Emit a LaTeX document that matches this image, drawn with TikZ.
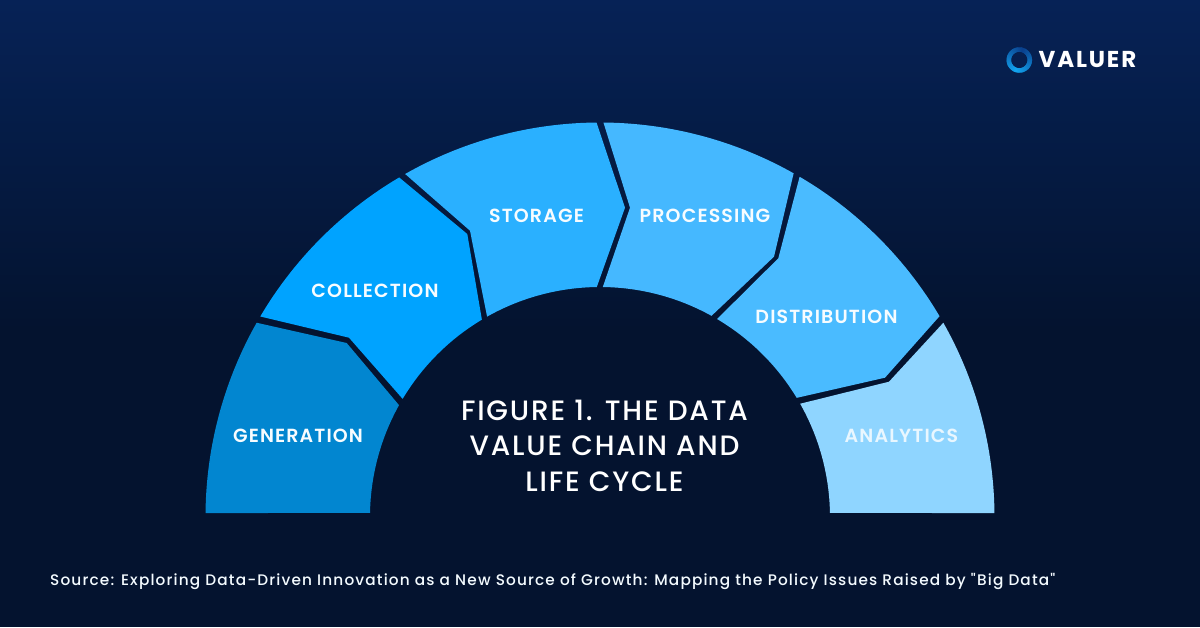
\documentclass[tikz,border=0pt]{standalone}
\usepackage{fontspec}
\setmainfont{Poppins}
\newfontfamily\bandfont[LetterSpace=6]{Poppins SemiBold}
\newfontfamily\titlefont[LetterSpace=6.5]{Poppins Medium}
\newfontfamily\sourcefont[LetterSpace=7.5]{Poppins Medium}
\newfontfamily\logofont[LetterSpace=8]{Poppins}
\definecolor{bgtop}{HTML}{062256}
\definecolor{bgbottom}{HTML}{04132F}
\definecolor{generationblue}{HTML}{0286D0}
\definecolor{collectionblue}{HTML}{00A3FF}
\definecolor{storageblue}{HTML}{2AB0FF}
\definecolor{processingblue}{HTML}{45B8FF}
\definecolor{distributionblue}{HTML}{4ABBFF}
\definecolor{analyticsblue}{HTML}{8FD5FF}
\definecolor{ringdark}{HTML}{0A3F8C}
\definecolor{ringlight}{HTML}{12A5F0}
\tikzset{
  bandlabel/.style={text=white!93!analyticsblue, font=\bandfont\fontsize{19}{22}\selectfont},
  titlelabel/.style={text=white, align=center, font=\titlefont\fontsize{28}{35.5}\selectfont},
  sourcelabel/.style={text=white!90!analyticsblue, anchor=west, inner sep=0pt, font=\sourcefont\fontsize{15.3}{18}\selectfont},
}
\begin{document}
\begin{tikzpicture}[x=1pt, y=1pt]
  \useasboundingbox (-600,-110) rectangle (600,517);
  % background
  \fill[bgbottom] (-600,-110) rectangle (600,190);
  \shade[top color=bgtop, bottom color=bgbottom] (-600,187) rectangle (600,517);
  % bands of the arch
  \fill[generationblue] (150.5:394.5) -- (-253.3,174) -- (150.9:230) arc[start angle=150.9, end angle=179, radius=230] -- (179.42:394.5) arc[start angle=179.42, end angle=150.5, radius=394.5] -- cycle;
  \fill[collectionblue] (120.6:394.5) -- (-132.7,283) -- (120.9:230) arc[start angle=120.9, end angle=149.1, radius=230] -- (-251,179.3) -- (149.45:394.5) arc[start angle=149.45, end angle=120.6, radius=394.5] -- cycle;
  \fill[storageblue] (90.5:394.5) -- (25,309.3) -- (90.8:230) arc[start angle=90.8, end angle=119.4, radius=230] -- (-130,286.3) -- (119.6:394.5) arc[start angle=119.6, end angle=90.5, radius=394.5] -- cycle;
  \fill[processingblue] (60.6:394.5) -- (174,260.3) -- (61:230) arc[start angle=61, end angle=89.3, radius=230] -- (30,309.3) -- (89.5:394.5) arc[start angle=89.5, end angle=60.6, radius=394.5] -- cycle;
  \fill[distributionblue] (30.6:394.5) -- (285,139.3) -- (31.2:230) arc[start angle=31.2, end angle=59.4, radius=230] -- (178.3,258.7) -- (59.6:394.5) arc[start angle=59.6, end angle=30.6, radius=394.5] -- cycle;
  \fill[analyticsblue] (0.58:394.5) -- (1:230) arc[start angle=1, end angle=29.5, radius=230] -- (289,135.3) -- (29.5:394.5) arc[start angle=29.5, end angle=0.58, radius=394.5] -- cycle;
  % labels
  \node[bandlabel] (generation) at (-302,81) {GENERATION};
  \node[bandlabel] (collection) at (-225,226) {COLLECTION};
  \node[bandlabel] (storage) at (-63.5,301) {STORAGE};
  \node[bandlabel] (processing) at (105,301.5) {PROCESSING};
  \node[bandlabel] (distribution) at (226.5,200) {DISTRIBUTION};
  \node[bandlabel, text=white!80!analyticsblue] (analytics) at (301.5,81) {ANALYTICS};
  \node[titlelabel] (title) at (4.5,71.5) {FIGURE 1. THE DATA\\VALUE CHAIN AND\\LIFE CYCLE};
  \node[sourcelabel] (source) at (-550,-64) {Source: Exploring Data-Driven Innovation as a New Source of Growth: Mapping the Policy Issues Raised by "Big Data"};
  % logo
  \foreach \a in {0,6,...,354} {
    \pgfmathsetmacro{\mixval}{abs(mod(\a+110,360)-180)/1.8}
    \draw[ringlight!\mixval!ringdark, line width=4.5pt] ([shift={(\a:10.5)}]419.3,457) arc[start angle=\a, end angle=\a+10, radius=10.5];
  }
  \node[text=white, anchor=west, inner sep=0pt, font=\logofont\fontsize{23}{24}\selectfont\bfseries] (logo) at (438.5,457) {VALUER};
\end{tikzpicture}
\end{document}
